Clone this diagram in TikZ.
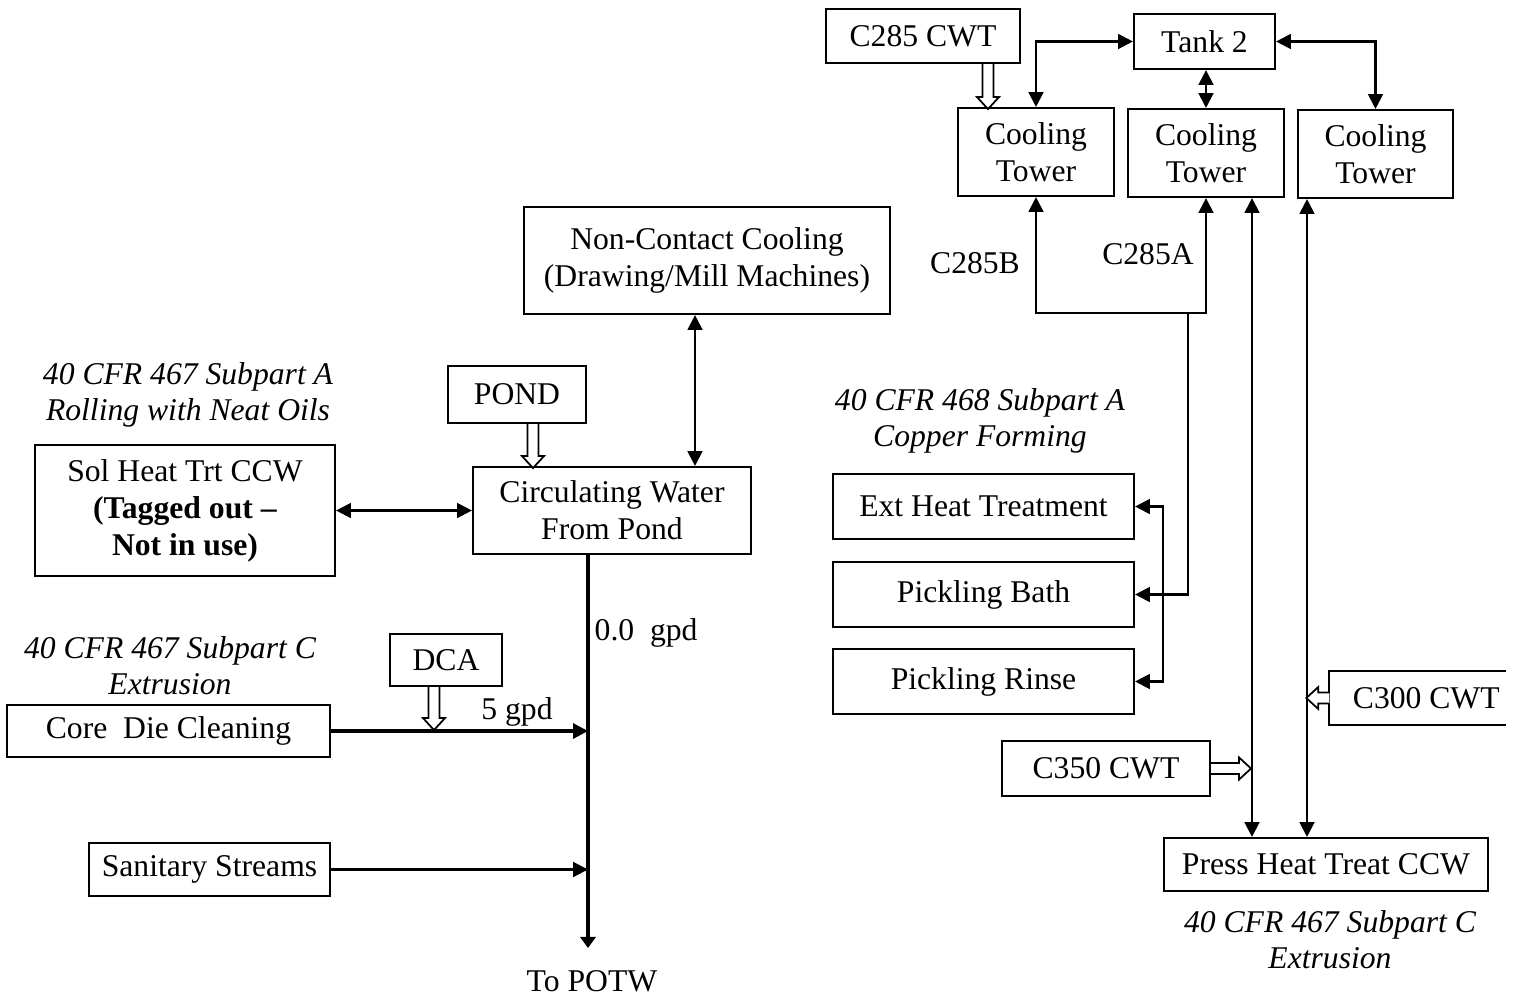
\documentclass[tikz,border=0pt]{standalone}
\usepackage{fontspec}
\setmainfont{Liberation Serif}
\usetikzlibrary{arrows.meta,calc}
\tikzset{
  box/.style={draw, line width=0.6pt, inner sep=0pt, align=center},
  wh/.style 2 args={minimum width=#1*0.01cm, minimum height=#2*0.01cm},
  lbl/.style={inner sep=0pt, align=center},
  ital/.style={inner sep=0pt, align=center, font=\fontsize{9}{10.2}\selectfont\itshape},
  conn/.style={line width=0.6pt},
  heavy/.style={line width=0.9pt},
  tip/.tip={Triangle[length=4.2pt,width=4.2pt]},
  smalltip/.tip={Triangle[length=3.2pt,width=4.4pt]},
}
\newcommand\hollowarr[3]{%
  \begin{scope}[shift={(#1)}, rotate=#2]
    \draw[line width=0.5pt, fill=white] (0,-5.5) -- (#3-12,-5.5) -- (#3-12,-11) -- (#3,0) -- (#3-12,11) -- (#3-12,5.5) -- (0,5.5);
  \end{scope}}
\begin{document}
\begin{tikzpicture}[x=0.01cm, y=-0.01cm, font=\fontsize{9}{10.5}\selectfont]
\useasboundingbox (0,0) rectangle (1517,996);

% right top group
\node[box, wh={194}{54}] (cwt) at (923,36) {C285 CWT};
\node[box, wh={141}{55}] (tank) at (1204.5,41.5) {Tank 2};
\node[box, wh={156}{88}] (ct1) at (1036,152) {Cooling\\Tower};
\node[box, wh={156}{88}] (ct2) at (1206,153) {Cooling\\Tower};
\node[box, wh={155}{88}] (ct3) at (1375.5,154) {Cooling\\Tower};

% middle
\node[box, wh={366}{107}] (ncc) at (707,260.5) {Non-Contact Cooling\\(Drawing/Mill Machines)};
\node[box, wh={138}{57}] (pond) at (517,394.5) {POND};
\node[box, wh={300}{131}] (sol) at (185,510.5) {Sol Heat Trt CCW\\\textbf{(Tagged out --}\\\textbf{Not in use)}};
\node[box, wh={278}{87}] (circ) at (612,510.5) {Circulating Water\\From Pond};
\node[box, wh={112}{52}] (dca) at (446,660) {DCA};
\node[box, wh={323}{52}] (core) at (168.5,731) {Core\ \ Die Cleaning};
\node[box, wh={241}{53}] (san) at (209.5,869.5) {Sanitary Streams};

% right middle
\node[box, wh={301}{65}] (ext) at (983.5,506.5) {Ext Heat Treatment};
\node[box, wh={301}{65}] (pbath) at (983.5,594.5) {Pickling Bath};
\node[box, wh={301}{65}] (prinse) at (983.5,681.5) {Pickling Rinse};
\node[box, wh={208}{55}] (c350) at (1106,768.5) {C350 CWT};
\node[lbl, wh={175}{52}] (c300) at (1417.5,698) {\hspace{5pt}C300 CWT};
\draw[line width=0.6pt] (c300.north east) -- (c300.north west) -- (c300.south west) -- (c300.south east);
\node[box, wh={324}{53}] (press) at (1326,864.5) {Press Heat Treat CCW};

% italic labels
\node[ital] (la) at (188,395) {40 CFR 467 Subpart A\\Rolling with Neat Oils};
\node[ital] (lb) at (980,421) {40 CFR 468 Subpart A\\Copper Forming};
\node[ital] (lc) at (170,666) {40 CFR 467 Subpart C\\Extrusion};
\node[ital] (ld) at (1330,940) {40 CFR 467 Subpart C\\Extrusion};

% plain labels
\node[lbl] (l285b) at (975,263) {C285B};
\node[lbl] (l285a) at (1148,254) {C285A};
\node[lbl, anchor=west] (l00) at (594,633) {0.0\ \ gpd};
\node[lbl] (l5) at (517,712) {5 gpd};
\node[lbl] (potw) at (592,981) {To POTW};

% coordinates
\coordinate (jy) at (0,313);
\coordinate (b1) at (1188,313);
\coordinate (bx) at (1163,0);
\coordinate (v1) at (1252,0);
\coordinate (v2) at (1307,0);
\coordinate (vn) at (695,0);
\coordinate (dx) at (588,0);
\coordinate (drainend) at (588,948);

% tank connectors
\draw[conn, tip-tip] (tank.west) -| (ct1.north);
\draw[conn, tip-tip] (tank.east) -| (ct3.north);
\draw[conn, tip-tip] (tank.south -| ct2.north) -- (ct2.north);

% C285 loop
\draw[conn, tip-tip] (ct1.south) -- (ct1.south |- jy) -| (ct2.south);
\draw[conn, -tip] (b1) |- (pbath.east);
\draw[conn, tip-tip] (ext.east) -- (ext.east -| bx) -- (prinse.east -| bx) -- (prinse.east);

% press lines
\draw[conn, tip-tip] (v1 |- press.north) -- (v1 |- ct2.south);
\draw[conn, tip-tip] (v2 |- press.north) -- (v2 |- ct3.south);

% left/middle connectors
\draw[conn, tip-tip] (vn |- ncc.south) -- (vn |- circ.north);
\draw[conn, tip-tip] (sol.east) -- (circ.west);
\draw[heavy, -smalltip] (dx |- circ.south) -- (drainend);
\draw[heavy, -tip] (core.east) -- (core.east -| dx);
\draw[conn, -tip] (san.east) -- (san.east -| dx);

% hollow arrows
\hollowarr{$(cwt.south)+(65,0)$}{-90}{45}
\hollowarr{$(pond.south)+(16,0)$}{-90}{44}
\hollowarr{$(dca.south)+(-12,0)$}{-90}{43}
\hollowarr{c350.east}{0}{40}
\hollowarr{c300.west}{180}{23}
\end{tikzpicture}
\end{document}
